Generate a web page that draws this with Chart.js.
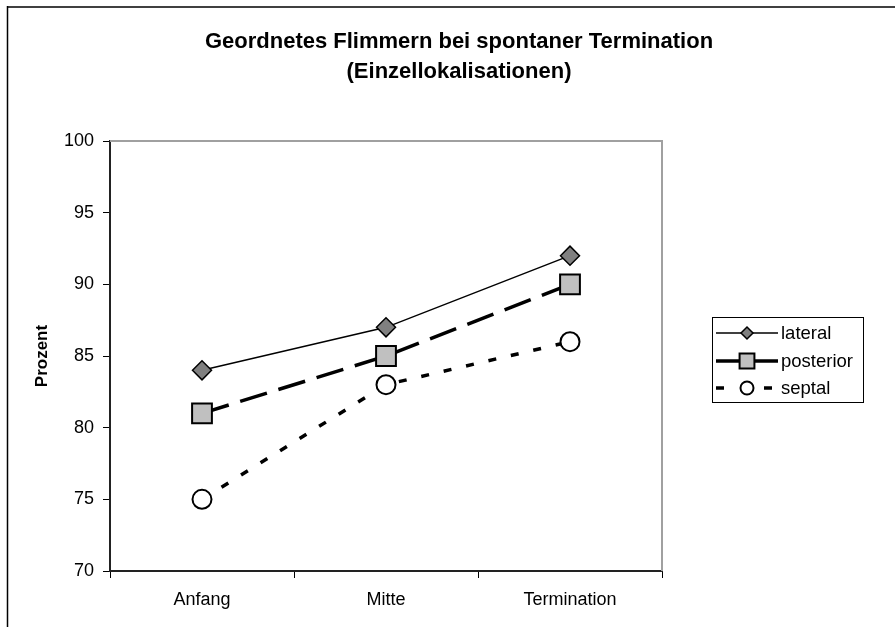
<!DOCTYPE html>
<html>
<head>
<meta charset="utf-8">
<script src="https://cdn.jsdelivr.net/npm/chart.js@4.4.1/dist/chart.umd.min.js"></script>
<style>
  html, body { margin: 0; padding: 0; background: #fff; }
  canvas { display: block; }
</style>
</head>
<body>
<canvas id="c" width="895" height="627"></canvas>
<script>
// Data
const categories = ['Anfang', 'Mitte', 'Termination'];
const lateral = [84, 87, 92];
const posterior = [81, 85, 90];
const septal = [75, 83, 86];
const seriesNames = ['lateral', 'posterior', 'septal'];
const yMin = 70, yMax = 100, yStep = 5;
const titleLines = ['Geordnetes Flimmern bei spontaner Termination', '(Einzellokalisationen)'];
const yAxisTitle = 'Prozent';

const FONT = 'Arial, "Liberation Sans", sans-serif';

// White page with the outer frame line at top and left
const framePlugin = {
  id: 'frame',
  beforeDraw(chart) {
    const ctx = chart.ctx;
    ctx.save();
    ctx.fillStyle = '#fff';
    ctx.fillRect(0, 0, chart.width, chart.height);
    ctx.strokeStyle = '#404040';
    ctx.lineWidth = 2;
    ctx.beginPath();
    ctx.moveTo(7, 7);
    ctx.lineTo(chart.width, 7);
    ctx.stroke();
    ctx.strokeStyle = '#000';
    ctx.lineWidth = 1.5;
    ctx.beginPath();
    ctx.moveTo(7.5, 6);
    ctx.lineTo(7.5, chart.height);
    ctx.stroke();
    ctx.restore();
  }
};

// Grey top/right edge of the plot area
const plotEdgePlugin = {
  id: 'plotEdge',
  beforeDatasetsDraw(chart) {
    const { ctx, chartArea: a } = chart;
    ctx.save();
    ctx.strokeStyle = '#a0a0a0';
    ctx.lineWidth = 2;
    ctx.beginPath();
    ctx.moveTo(a.left, a.top);
    ctx.lineTo(a.right, a.top);
    ctx.lineTo(a.right, a.bottom);
    ctx.stroke();
    ctx.restore();
  }
};

// Two-line bold title
const titlePlugin = {
  id: 'twoLineTitle',
  afterDraw(chart) {
    const ctx = chart.ctx;
    ctx.save();
    ctx.font = 'bold 22px ' + FONT;
    ctx.fillStyle = '#000';
    ctx.textAlign = 'center';
    ctx.textBaseline = 'middle';
    ctx.fillText(titleLines[0], 459, 42);
    ctx.fillText(titleLines[1], 459, 72);
    ctx.restore();
  }
};

function drawMarker(ctx, ds, x, y) {
  const r = ds.pointRadius;
  ctx.save();
  ctx.fillStyle = ds.pointBackgroundColor;
  ctx.strokeStyle = ds.pointBorderColor;
  ctx.lineWidth = ds.pointBorderWidth;
  ctx.setLineDash([]);
  ctx.beginPath();
  if (ds.pointStyle === 'rectRot') {
    ctx.moveTo(x - r, y); ctx.lineTo(x, y - r); ctx.lineTo(x + r, y); ctx.lineTo(x, y + r);
    ctx.closePath();
  } else if (ds.pointStyle === 'rect') {
    const s = r * Math.SQRT1_2;
    ctx.rect(x - s, y - s, 2 * s, 2 * s);
  } else {
    ctx.arc(x, y, r, 0, Math.PI * 2);
  }
  ctx.fill();
  ctx.stroke();
  ctx.restore();
}

// Boxed legend on the right: line sample + marker + name
const legendPlugin = {
  id: 'boxLegend',
  afterDraw(chart) {
    const ctx = chart.ctx;
    const box = { x: 712, y: 317, w: 151, h: 85 };
    const rows = [333, 361, 388];
    ctx.save();
    ctx.strokeStyle = '#000';
    ctx.lineWidth = 1;
    ctx.strokeRect(box.x + 0.5, box.y + 0.5, box.w, box.h);
    chart.data.datasets.forEach((ds, i) => {
      const y = rows[i];
      ctx.save();
      ctx.strokeStyle = ds.borderColor;
      ctx.lineWidth = ds.borderWidth;
      ctx.setLineDash(ds.legendDash || []);
      ctx.beginPath();
      ctx.moveTo(716, y);
      ctx.lineTo(778, y);
      ctx.stroke();
      ctx.restore();
      drawMarker(ctx, { ...ds, pointRadius: ds.legendRadius }, 747, y);
      ctx.font = '18.5px ' + FONT;
      ctx.fillStyle = '#000';
      ctx.textAlign = 'left';
      ctx.textBaseline = 'middle';
      ctx.fillText(ds.label, 781, y + 1);
    });
    ctx.restore();
  }
};

const tickFont = { family: FONT, size: 18 };

new Chart(document.getElementById('c'), {
  type: 'line',
  data: {
    labels: categories,
    datasets: [
      {
        label: seriesNames[0],
        data: lateral,
        borderColor: '#000',
        borderWidth: 1.5,
        pointStyle: 'rectRot',
        pointRadius: 9.5,
        legendRadius: 6,
        pointBackgroundColor: '#808080',
        pointBorderColor: '#000',
        pointBorderWidth: 1.5,
        tension: 0
      },
      {
        label: seriesNames[1],
        data: posterior,
        borderColor: '#000',
        borderWidth: 3.5,
        borderDash: [28, 12],
        legendDash: [],
        pointStyle: 'rect',
        pointRadius: 14,
        legendRadius: 10.5,
        pointBackgroundColor: '#c0c0c0',
        pointBorderColor: '#000',
        pointBorderWidth: 2,
        tension: 0
      },
      {
        label: seriesNames[2],
        data: septal,
        borderColor: '#000',
        borderWidth: 3.5,
        borderDash: [8, 15],
        legendDash: [8, 16],
        pointStyle: 'circle',
        pointRadius: 9.5,
        legendRadius: 6.5,
        pointBackgroundColor: '#fff',
        pointBorderColor: '#000',
        pointBorderWidth: 2,
        tension: 0
      }
    ]
  },
  options: {
    responsive: false,
    animation: false,
    devicePixelRatio: 1,
    layout: { padding: { top: 141, right: 233, bottom: 0, left: 0 } },
    plugins: {
      legend: { display: false },
      title: { display: false },
      tooltip: { enabled: false }
    },
    scales: {
      x: {
        type: 'category',
        offset: true,
        grid: { offset: true, drawOnChartArea: false, drawTicks: true, tickLength: 7, color: '#000', lineWidth: 1 },
        border: { color: '#222', width: 2 },
        ticks: { font: tickFont, color: '#000', padding: 11, maxRotation: 0 },
        afterFit(s) { s.height = 56; }
      },
      y: {
        min: yMin,
        max: yMax,
        grid: { drawOnChartArea: false, drawTicks: true, tickLength: 7, color: '#000', lineWidth: 1 },
        border: { color: '#222', width: 2 },
        ticks: { stepSize: yStep, font: tickFont, color: '#000', padding: 9 },
        title: {
          display: true,
          text: yAxisTitle,
          color: '#000',
          font: { family: FONT, size: 17, weight: 'bold' },
          padding: { top: 32, bottom: 0 }
        },
        afterFit(s) { s.width = 110; }
      }
    }
  },
  plugins: [framePlugin, plotEdgePlugin, titlePlugin, legendPlugin]
});
</script>
</body>
</html>
